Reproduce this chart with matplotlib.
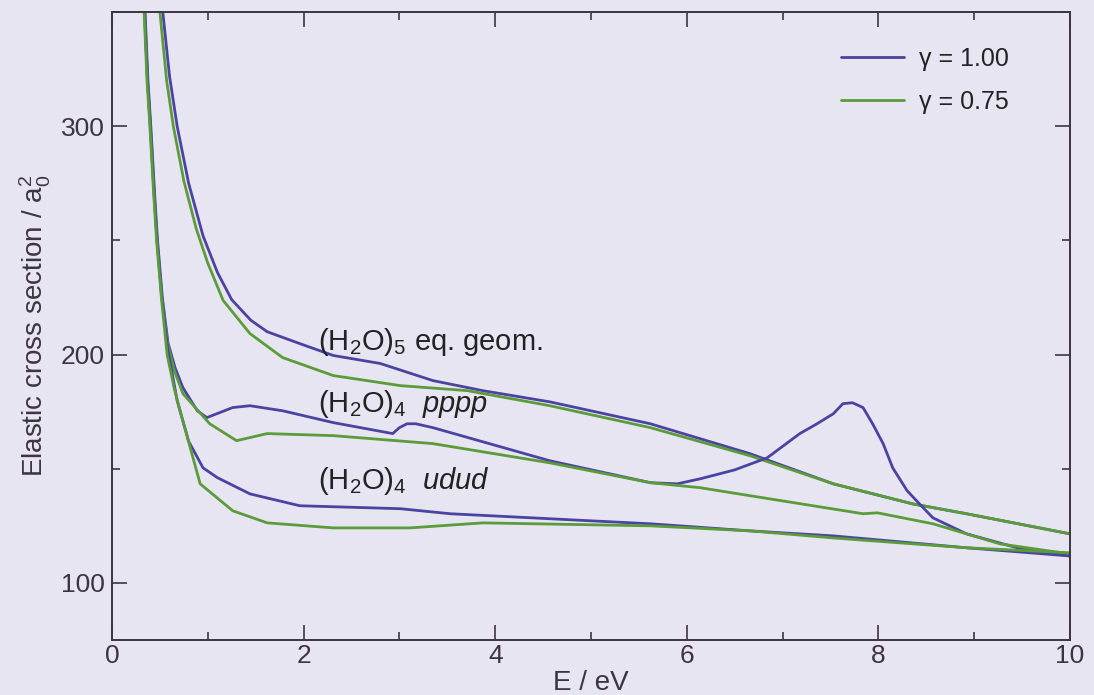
import matplotlib
matplotlib.use('Agg')
import matplotlib.pyplot as plt
from matplotlib.ticker import MultipleLocator

plt.rcParams['font.family'] = ['Liberation Sans', 'DejaVu Sans']
plt.rcParams['mathtext.fontset'] = 'custom'
plt.rcParams['mathtext.rm'] = 'Liberation Sans'
plt.rcParams['mathtext.it'] = 'Liberation Sans:italic'

# (H2O)5 equilibrium geometry
e_penta_g100 = [0.47, 0.53, 0.60, 0.68, 0.80, 0.95, 1.10, 1.25, 1.45, 1.62, 1.96, 2.31, 2.80, 3.35, 3.87, 4.57, 5.62, 6.66, 7.53, 8.36, 8.92, 10.0]
s_penta_g100 = [380, 350, 322, 300, 275, 252, 236, 224, 215, 210, 204.8, 199.6, 196.1, 188.6, 184.2, 179.3, 169.7, 156.6, 143.4, 134.6, 130.3, 121.5]
e_penta_g075 = [0.45, 0.50, 0.57, 0.64, 0.75, 0.88, 1.00, 1.16, 1.44, 1.78, 2.31, 3.01, 3.71, 4.57, 5.62, 6.66, 7.53, 8.36, 8.92, 10.0]
s_penta_g075 = [380, 350, 320, 300, 276, 255, 240, 223.7, 209.2, 198.7, 190.8, 186.4, 184.2, 177.6, 168.0, 155.7, 143.4, 134.6, 130.3, 121.5]

# (H2O)4 pppp
e_pppp_g100 = [0.31, 0.345, 0.375, 0.405, 0.445, 0.475, 0.525, 0.585, 0.66, 0.74, 0.89, 0.99, 1.26, 1.44, 1.78, 2.31, 2.93, 3.00, 3.08, 3.17, 3.35, 4.57, 5.62, 5.90, 6.14, 6.50, 6.84, 7.18, 7.36, 7.53, 7.63, 7.73, 7.84, 7.94, 8.05, 8.15, 8.30, 8.43, 8.57, 8.92, 9.45, 10.0]
s_pppp_g100 = [380, 350, 320, 300, 270, 250, 225, 205, 194, 185.5, 175.4, 172.4, 176.8, 177.6, 175.4, 170.2, 165.4, 168.0, 169.7, 169.7, 168.0, 153.5, 143.9, 143.4, 145.6, 149.5, 154.8, 165.4, 169.7, 174.1, 178.5, 178.9, 176.8, 169.7, 161.0, 150.4, 140.4, 134.6, 128.5, 121.5, 115.4, 111.8]
e_pppp_g075 = [0.30, 0.34, 0.37, 0.40, 0.44, 0.47, 0.52, 0.58, 0.65, 0.74, 1.02, 1.30, 1.62, 2.31, 3.35, 4.57, 5.62, 6.14, 6.66, 7.84, 7.99, 8.57, 9.27, 10.0]
s_pppp_g075 = [380, 350, 320, 300, 270, 250, 225, 205, 193, 182.9, 169.7, 162.3, 165.4, 164.5, 161.0, 152.6, 143.9, 141.7, 138.2, 130.3, 130.7, 125.9, 117.1, 112.7]

# (H2O)4 udud
e_udud_g100 = [0.305, 0.34, 0.37, 0.40, 0.44, 0.47, 0.52, 0.58, 0.68, 0.80, 0.95, 1.10, 1.44, 1.96, 3.01, 3.53, 5.62, 6.66, 7.53, 8.92, 10.0]
s_udud_g100 = [380, 350, 320, 300, 270, 250, 225, 203, 179.8, 162, 150.4, 146.1, 139.0, 133.8, 132.5, 130.3, 125.9, 122.8, 120.6, 115.4, 111.8]
e_udud_g075 = [0.295, 0.335, 0.365, 0.395, 0.435, 0.465, 0.515, 0.575, 0.65, 0.73, 0.92, 1.26, 1.62, 2.31, 3.11, 3.87, 5.62, 6.66, 7.53, 8.92, 10.0]
s_udud_g075 = [380, 350, 320, 300, 270, 250, 225, 200, 185, 172.4, 143.4, 131.6, 126.3, 124.1, 124.1, 126.3, 125.0, 122.8, 119.7, 115.4, 113.2]

labels = ['\u03b3 = 1.00', '\u03b3 = 0.75']
blue = '#4B43A0'
green = '#5A9B3A'
bg = '#E8E5F3'
ink = '#3a3540'

fig = plt.figure(figsize=(10.94, 6.95), dpi=100, facecolor=bg)
ax = fig.add_axes([0.1024, 0.0791, 0.8756, 0.9036], facecolor=bg)

lw = 2.0
kw = dict(lw=lw, solid_joinstyle='round', solid_capstyle='round')
ax.plot(e_penta_g100, s_penta_g100, color=blue, label=labels[0], **kw)
ax.plot(e_penta_g075, s_penta_g075, color=green, label=labels[1], **kw)
ax.plot(e_pppp_g100, s_pppp_g100, color=blue, **kw)
ax.plot(e_pppp_g075, s_pppp_g075, color=green, **kw)
ax.plot(e_udud_g100, s_udud_g100, color=blue, **kw)
ax.plot(e_udud_g075, s_udud_g075, color=green, **kw)

ax.set_xlim(0, 10)
ax.set_ylim(75, 350)
ax.xaxis.set_major_locator(MultipleLocator(2))
ax.xaxis.set_minor_locator(MultipleLocator(1))
ax.yaxis.set_major_locator(MultipleLocator(100))
ax.yaxis.set_minor_locator(MultipleLocator(50))
ax.tick_params(which='both', direction='in', top=True, right=True, colors=ink,
               labelsize=19, width=1.2)
ax.tick_params(which='major', length=11)
ax.tick_params(which='minor', length=6)
ax.tick_params(axis='x', which='major', pad=3)
ax.tick_params(axis='y', which='major', pad=5)
for sp in ax.spines.values():
    sp.set_color(ink)
    sp.set_linewidth(1.4)

ax.set_xlabel('E / eV', fontsize=20, color=ink, labelpad=1.5)
ax.set_ylabel(r'Elastic cross section / a$_0^2$', fontsize=20, color=ink, labelpad=6)

ax.text(2.15, 205.3, r'(H$_2$O)$_5$ eq. geom.', fontsize=21, color='#222', va='center')
ax.text(2.15, 178.5, r'(H$_2$O)$_4$  $\mathit{pppp}$', fontsize=21, color='#222', va='center')
ax.text(2.15, 144.5, r'(H$_2$O)$_4$  $\mathit{udud}$', fontsize=21, color='#222', va='center')

leg = ax.legend(loc='upper left', bbox_to_anchor=(0.737, 0.98), frameon=False,
                fontsize=18, handlelength=2.55, handletextpad=0.6, labelspacing=0.76)
for t in leg.get_texts():
    t.set_color('#222')

fig.savefig('out.png', dpi=100, facecolor=bg)
